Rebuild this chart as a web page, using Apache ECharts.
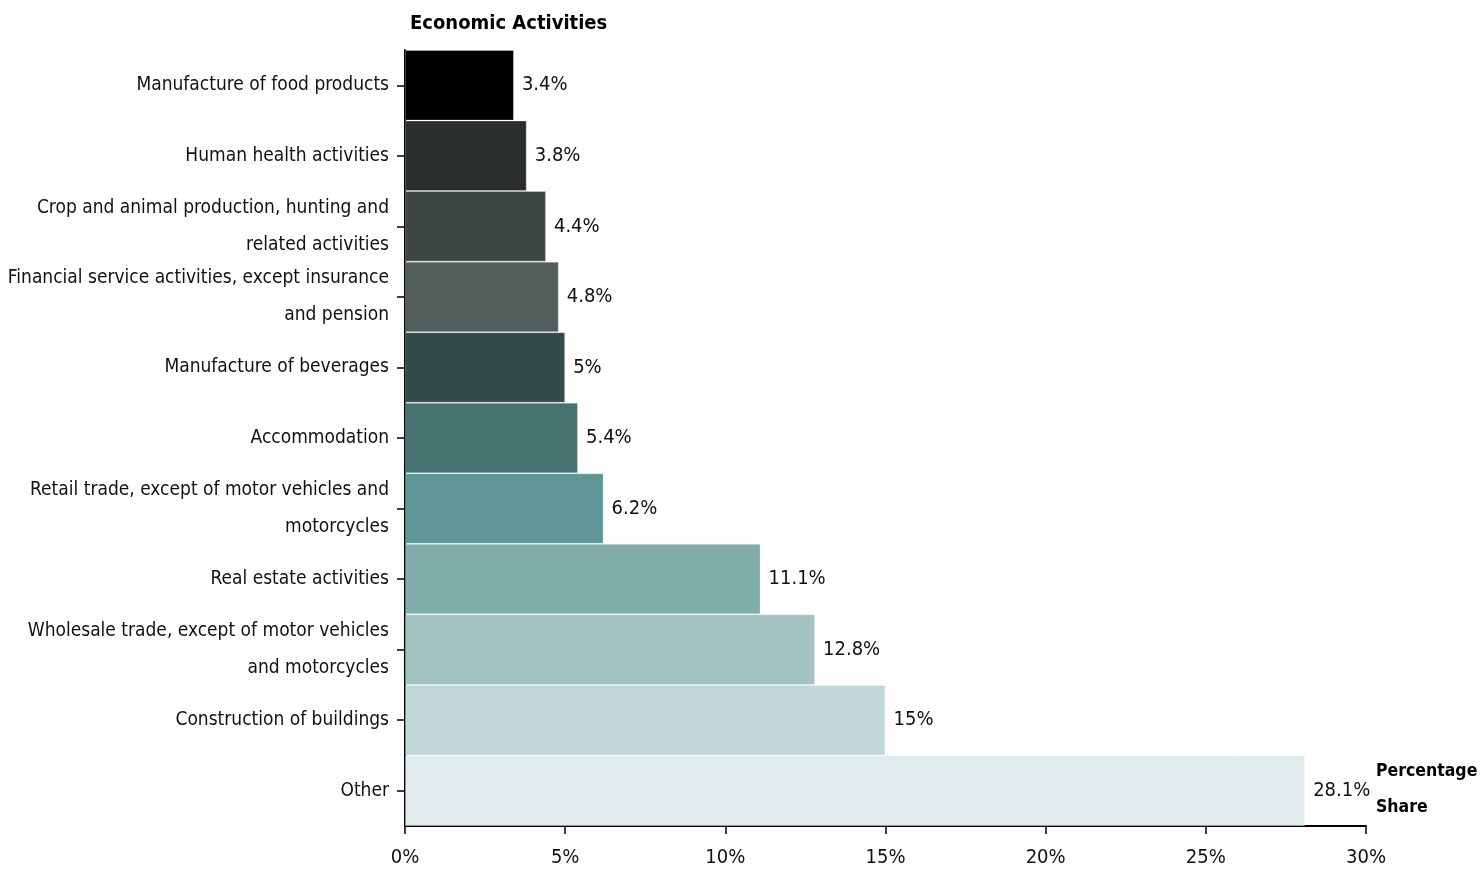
<!DOCTYPE html>
<html>
<head>
<meta charset="utf-8">
<script src="https://cdn.jsdelivr.net/npm/echarts@6/dist/echarts.min.js"></script>
<style>
html,body{margin:0;padding:0;background:#fff;}
#chart{width:1480px;height:872px;}
</style>
</head>
<body>
<div id="chart"></div>
<script>
const categories = [
  "Manufacture of food products",
  "Human health activities",
  "Crop and animal production, hunting and\nrelated activities",
  "Financial service activities, except insurance\nand pension",
  "Manufacture of beverages",
  "Accommodation",
  "Retail trade, except of motor vehicles and\nmotorcycles",
  "Real estate activities",
  "Wholesale trade, except of motor vehicles\nand motorcycles",
  "Construction of buildings",
  "Other"
];
const shares = [3.4, 3.8, 4.4, 4.8, 5, 5.4, 6.2, 11.1, 12.8, 15, 28.1];
const barColors = ["#000000","#2a2f2e","#3d4644","#525e5b","#324a48","#467270","#5e9795","#80aca9","#a1c2c0","#c1d7d8","#e0ebeb"];
const xTicks = [0, 5, 10, 15, 20, 25, 30];

const FONT = "'Liberation Sans Narrow', 'Arial Narrow', 'DejaVu Sans Condensed', 'Liberation Sans', sans-serif";

const chart = echarts.init(document.getElementById('chart'));
chart.setOption({
  animation: false,
  textStyle: { fontFamily: FONT },
  title: [
    { text: "Economic Activities", left: 405, top: 9,
      textStyle: { fontFamily: FONT, fontWeight: 'bold', fontSize: 20, color: '#000' } },
    { text: "Percentage\nShare", left: 1371, top: 748,
      textStyle: { fontFamily: FONT, fontWeight: 'bold', fontSize: 17.5, color: '#000', lineHeight: 36 } }
  ],
  grid: { left: 405, right: 114, top: 50, bottom: 46, containLabel: false, outerBoundsMode: 'none' },
  xAxis: {
    type: 'value', min: xTicks[0], max: xTicks[xTicks.length - 1], interval: 5,
    axisLine: { show: true, lineStyle: { color: '#000', width: 2 } },
    axisTick: { show: true, length: 8, lineStyle: { color: '#000', width: 1.5 } },
    splitLine: { show: false },
    axisLabel: { formatter: v => v + '%', fontFamily: FONT, fontSize: 20, color: '#111', margin: 22 }
  },
  yAxis: {
    type: 'category', data: categories, inverse: true,
    axisLine: { show: true, lineStyle: { color: '#000', width: 2 } },
    axisTick: { show: true, alignWithLabel: true, length: 8, lineStyle: { color: '#000', width: 1.5 } },
    axisLabel: { fontFamily: FONT, fontSize: 19, color: '#111', margin: 16, lineHeight: 37, align: 'right' }
  },
  series: [{
    type: 'bar',
    barCategoryGap: '0%',
    data: shares.map((v, i) => ({ value: v, itemStyle: { color: barColors[i], borderColor: 'rgba(255,255,255,0.25)', borderWidth: 1 } })),
    label: { show: true, position: 'right', distance: 8, formatter: p => p.value + '%',
      fontFamily: FONT, fontSize: 20, color: '#111' }
  }]
});
</script>
</body>
</html>
